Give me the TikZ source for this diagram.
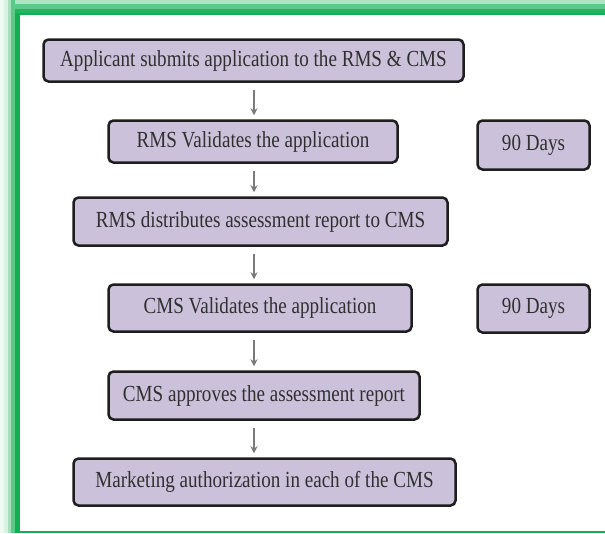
\documentclass[tikz,border=0pt]{standalone}
\usepackage{fontspec}
\setmainfont{Liberation Serif}
\usetikzlibrary{arrows.meta,shadows}
\definecolor{boxfill}{HTML}{CCC1DA}
\definecolor{boxline}{HTML}{1E1E1E}
\definecolor{txt}{HTML}{303030}
\definecolor{arrowgray}{HTML}{7A7A7A}
\definecolor{gA}{HTML}{12AF50}
\definecolor{gB}{HTML}{22B560}
\definecolor{gC}{HTML}{5CC98A}
\definecolor{gD}{HTML}{AEE3C4}
\definecolor{gE}{HTML}{D9F2E3}
\definecolor{gF}{HTML}{EEF9F2}
\newcommand{\boxtext}[1]{\scalebox{0.83}[1]{#1}}
\tikzset{
  stepbox/.style={rectangle, rounded corners=5pt, draw=boxline, line width=2.5pt,
    fill=boxfill, text=txt, inner sep=0pt, font=\fontsize{23}{26}\selectfont,
    drop shadow={opacity=0.25, shadow xshift=1pt, shadow yshift=-1pt}},
  flowarrow/.style={draw=arrowgray, line width=1.4pt,
    -{Stealth[length=7pt,width=7pt]}, shorten <=7pt, shorten >=4pt}
}
\begin{document}
\begin{tikzpicture}[x=1pt,y=-1pt]
\useasboundingbox (0,0) rectangle (605,533);
\fill[white] (0,0) rectangle (605,533);
% green frame: top band
\fill[gD] (0,0) rectangle (605,4.3);
\fill[gC] (0,4.3) rectangle (605,8.5);
\fill[gB] (0,8.5) rectangle (605,12.5);
\fill[gA] (0,12.5) rectangle (605,15);
% green frame: left band
\fill[gF] (0,0) rectangle (3.5,533);
\fill[gE] (3.5,0) rectangle (7.5,533);
\fill[gD!90!gC] (7.5,0) rectangle (11,533);
\fill[gC] (11,0) rectangle (15,533);
\fill[gA] (15,12.5) rectangle (20,533);
% green frame: bottom line
\fill[gA] (15,530.5) rectangle (605,533);

% flow steps
\node[stepbox, minimum width=420pt, minimum height=42pt] (submit) at (253.5,60.5)
  {\boxtext{Applicant submits application to the RMS \& CMS}};
\node[stepbox, minimum width=289pt, minimum height=42pt] (rmsval) at (253,141.5)
  {\boxtext{RMS Validates the application}};
\node[stepbox, minimum width=374pt, minimum height=48pt] (distrib) at (260.5,221.5)
  {\boxtext{RMS distributes assessment report to CMS}};
\node[stepbox, minimum width=303pt, minimum height=47pt] (cmsval) at (260,308)
  {\boxtext{CMS Validates the application}};
\node[stepbox, minimum width=311pt, minimum height=48pt] (approve) at (264,395.5)
  {\boxtext{CMS approves the assessment report}};
\node[stepbox, minimum width=382pt, minimum height=47pt] (auth) at (264.5,482)
  {\boxtext{Marketing authorization in each of the CMS}};

% durations
\node[stepbox, minimum width=112pt, minimum height=49pt] (days1) at (533.5,145)
  {\boxtext{90 Days}};
\node[stepbox, minimum width=112pt, minimum height=48pt] (days2) at (533.5,308.5)
  {\boxtext{90 Days}};

% arrow column
\coordinate (col) at (254,0);
\draw[flowarrow] (submit.south -| col) -- (rmsval.north -| col);
\draw[flowarrow] (rmsval.south -| col) -- (distrib.north -| col);
\draw[flowarrow] (distrib.south -| col) -- (cmsval.north -| col);
\draw[flowarrow] (cmsval.south -| col) -- (approve.north -| col);
\draw[flowarrow] (approve.south -| col) -- (auth.north -| col);
\end{tikzpicture}
\end{document}
